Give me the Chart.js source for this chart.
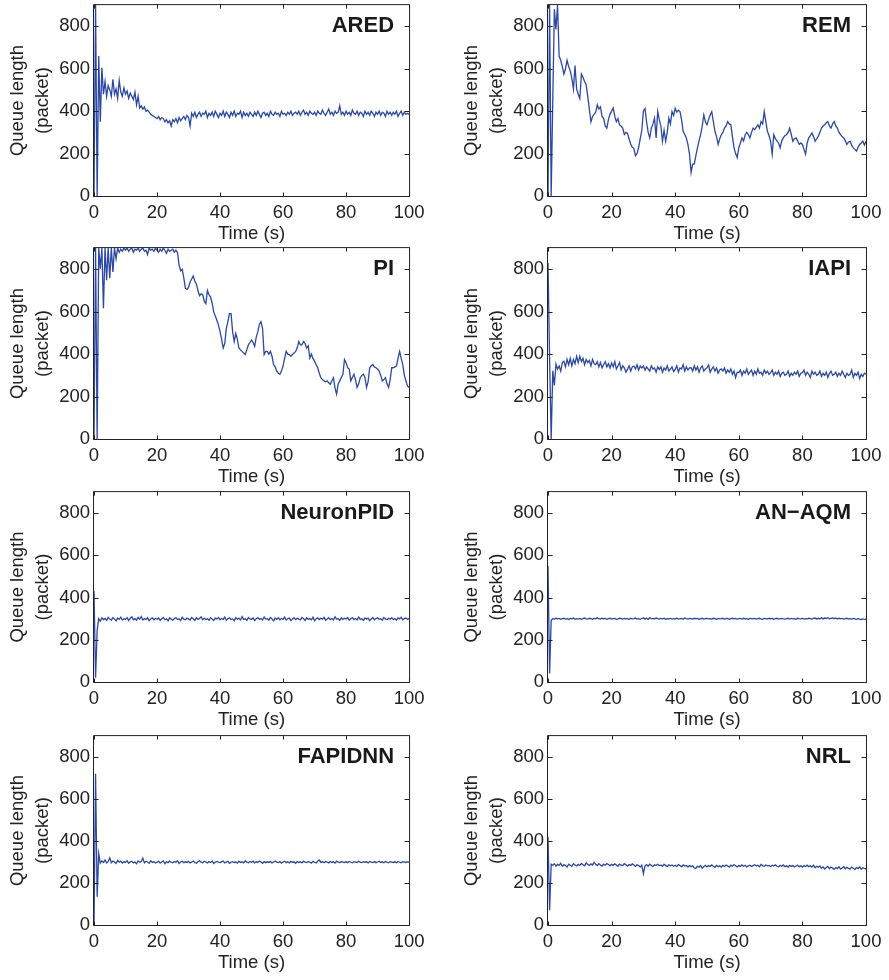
<!DOCTYPE html>
<html>
<head>
<meta charset="utf-8">
<script src="https://cdn.jsdelivr.net/npm/chart.js@4.4.1/dist/chart.umd.min.js"></script>
<style>
  html, body { margin: 0; padding: 0; background: #fff; overflow: hidden; width: 889px; height: 980px; position: relative; }
  canvas { position: absolute; }
</style>
</head>
<body>
<script>
// Sampling instants (s) shared by every queue trace: 0, 0.5, 1.0 ... 100
const time = Array.from({ length: 201 }, (_, i) => i * 0.5);
const xTicks = [0, 20, 40, 60, 80, 100];
const yTicks = [0, 200, 400, 600, 800];

// Instantaneous queue length (packets) for each AQM scheme
const qARED = [
  0, 900, 0, 660, 350, 605, 480, 540, 470, 520,
  500, 470, 550, 480, 505, 460, 545, 490, 470, 510,
  480, 495, 460, 485, 470, 455, 490, 430, 470, 415,
  425, 410, 420, 400, 405, 395, 385, 380, 375, 370,
  365, 375, 360, 370, 365, 350, 360, 345, 355, 330,
  360, 350, 365, 345, 370, 355, 365, 375, 360, 380,
  370, 330, 390, 375, 395, 370, 385, 395, 375, 390,
  385, 400, 370, 390, 380, 395, 375, 400, 385, 370,
  390, 380, 400, 375, 395, 385, 370, 395, 380, 400,
  375, 390, 385, 400, 370, 395, 380, 390, 375, 395,
  385, 375, 395, 380, 400, 385, 370, 390, 395, 380,
  390, 375, 400, 385, 380, 395, 385, 390, 375, 400,
  385, 390, 380, 395, 385, 400, 380, 390, 395, 385,
  400, 380, 395, 405, 385, 395, 380, 400, 390, 385,
  395, 380, 400, 390, 385, 405, 390, 380, 395, 410,
  385, 395, 380, 400, 390, 395, 425, 385, 395, 380,
  400, 385, 395, 380, 405, 390, 385, 400, 380, 395,
  390, 375, 400, 385, 395, 380, 400, 390, 375, 395,
  385, 400, 380, 395, 390, 375, 400, 385, 395, 380,
  395, 385, 400, 375, 390, 400, 380, 395, 385, 390,
  385
];
const qREM = [
  0, 900, 0, 450, 880, 785, 900, 660, 640, 610,
  575, 600, 640, 610, 590, 555, 505, 615, 505, 480,
  460, 575, 560, 540, 525, 470, 410, 350, 375, 385,
  395, 430, 410, 420, 375, 365, 330, 320, 360, 385,
  400, 415, 375, 350, 365, 335, 330, 320, 290, 300,
  295, 270, 245, 230, 225, 190, 200, 228, 270, 310,
  400, 413, 350, 300, 274, 320, 340, 367, 274, 398,
  360, 330, 258, 310, 258, 300, 367, 340, 398, 380,
  413, 395, 405, 398, 360, 305, 290, 274, 243, 197,
  111, 150, 150, 190, 227, 260, 289, 330, 382, 350,
  336, 360, 382, 398, 350, 305, 280, 243, 270, 289,
  300, 320, 330, 351, 340, 336, 280, 227, 200, 181,
  227, 250, 274, 260, 289, 300, 290, 274, 300, 320,
  313, 325, 336, 320, 351, 340, 398, 350, 305, 285,
  258, 197, 289, 270, 260, 250, 227, 260, 274, 285,
  289, 300, 320, 290, 258, 270, 274, 260, 243, 250,
  243, 220, 197, 250, 274, 285, 297, 280, 258, 270,
  282, 300, 320, 330, 336, 345, 351, 330, 320, 340,
  351, 330, 320, 300, 289, 280, 274, 260, 243, 255,
  258, 240, 227, 220, 212, 230, 243, 250, 258, 240,
  258
];
const qPI = [
  0, 900, 0, 900, 803, 900, 617, 900, 749, 900,
  758, 900, 787, 900, 850, 900, 880, 895, 885, 900,
  890, 900, 885, 895, 900, 880, 895, 890, 900, 885,
  895, 900, 885, 890, 870, 900, 890, 895, 885, 900,
  890, 880, 895, 885, 900, 890, 875, 895, 885, 890,
  895, 880, 890, 878, 820, 793, 800, 760, 710, 705,
  715, 740, 754, 769, 745, 730, 700, 676, 684, 680,
  650, 638, 700, 680, 669, 640, 599, 580, 560, 537,
  506, 470, 429, 450, 522, 553, 591, 591, 506, 460,
  498, 470, 429, 420, 413, 405, 398, 420, 444, 455,
  467, 455, 437, 480, 506, 540, 553, 522, 398, 413,
  413, 400, 413, 390, 351, 340, 320, 310, 305, 320,
  344, 380, 413, 400, 398, 390, 398, 405, 413, 430,
  460, 444, 444, 460, 450, 429, 440, 382, 400, 380,
  367, 350, 336, 310, 289, 280, 274, 270, 274, 265,
  258, 275, 289, 240, 212, 260, 274, 290, 305, 375,
  360, 336, 330, 274, 290, 305, 280, 243, 260, 289,
  300, 305, 290, 243, 270, 336, 345, 351, 340, 336,
  330, 320, 300, 274, 280, 289, 260, 243, 280, 336,
  336, 340, 344, 380, 413, 380, 351, 300, 274, 250,
  243
];
const qIAPI = [
  830, 380, 0, 322, 253, 353, 330, 344, 320, 360,
  367, 340, 375, 350, 380, 345, 375, 355, 390, 360,
  390, 365, 380, 350, 375, 360, 370, 345, 375, 355,
  351, 365, 340, 360, 335, 351, 365, 340, 355, 335,
  359, 340, 365, 330, 344, 360, 325, 345, 336, 315,
  328, 345, 320, 340, 344, 330, 350, 325, 344, 335,
  344, 325, 340, 330, 320, 345, 330, 335, 315, 340,
  328, 340, 315, 335, 325, 345, 320, 330, 340, 318,
  328, 345, 315, 335, 330, 350, 320, 340, 325, 335,
  336, 320, 345, 325, 340, 315, 335, 345, 320, 330,
  336, 350, 315, 330, 340, 320, 335, 310, 325, 330,
  320, 335, 310, 325, 315, 330, 305, 320, 290, 315,
  313, 325, 300, 320, 310, 330, 305, 315, 325, 300,
  320, 305, 330, 310, 315, 300, 325, 310, 320, 305,
  313, 325, 300, 315, 305, 320, 295, 310, 315, 300,
  305, 320, 295, 310, 300, 315, 305, 320, 295, 310,
  313, 325, 300, 315, 305, 290, 320, 305, 315, 300,
  305, 320, 295, 310, 300, 315, 290, 310, 320, 300,
  305, 315, 295, 310, 300, 320, 305, 290, 310, 300,
  305, 325, 290, 310, 300, 315, 285, 305, 295, 310,
  305
];
const qNeuronPID = [
  430, 20, 245, 300, 288, 304, 296, 301, 292, 306,
  298, 293, 305, 299, 290, 303, 297, 307, 294, 300,
  296, 305, 291, 302, 309, 295, 300, 293, 306, 298,
  310, 294, 301, 296, 305, 290, 299, 304, 295, 301,
  297, 303, 292, 300, 306, 295, 299, 290, 304, 298,
  293, 301, 305, 296, 300, 291, 307, 298, 295, 303,
  299, 294, 306, 300, 292, 304, 297, 301, 309, 295,
  302, 296, 300, 293, 305, 298, 291, 303, 299, 306,
  295, 301, 297, 308, 293, 300, 304, 296, 299, 290,
  305, 298, 302, 294, 310, 297, 300, 292, 306, 299,
  296, 304, 291, 300, 305, 297, 301, 294, 308, 298,
  300, 293, 306, 299, 290, 303, 297, 305, 295, 301,
  297, 308, 294, 300, 303, 291, 299, 305, 296, 302,
  298, 294, 306, 300, 292, 304, 297, 301, 295, 307,
  290, 300, 304, 296, 302, 298, 306, 293, 299, 305,
  296, 301, 294, 309, 298, 300, 292, 304, 297, 302,
  299, 306, 293, 300, 305, 296, 301, 294, 308, 297,
  300, 292, 304, 298, 303, 291, 299, 306, 295, 301,
  304, 297, 300, 293, 306, 299, 295, 302, 298, 305,
  296, 301, 293, 304, 299, 307, 295, 300, 303, 297,
  300
];
const qANAQM = [
  550, 40, 292, 300, 298, 302, 299, 301, 297, 300,
  302, 298, 300, 296, 301, 299, 303, 297, 300, 298,
  301, 297, 300, 303, 299, 298, 302, 300, 297, 301,
  299, 304, 300, 298, 302, 299, 301, 297, 300, 302,
  298, 300, 301, 297, 299, 302, 300, 298, 301, 299,
  300, 297, 302, 299, 300, 303, 298, 300, 297, 301,
  304, 298, 302, 297, 305, 299, 301, 298, 303, 300,
  298, 301, 299, 302, 297, 300, 299, 301, 298, 300,
  299, 302, 298, 300, 301, 297, 303, 300, 298, 301,
  300, 298, 302, 299, 301, 297, 300, 302, 298, 300,
  301, 299, 300, 298, 302, 300, 297, 301, 299, 300,
  302, 298, 300, 301, 297, 300, 302, 299, 301, 298,
  300, 301, 298, 302, 299, 300, 297, 301, 300, 299,
  301, 298, 300, 302, 299, 297, 301, 300, 298, 302,
  299, 301, 297, 300, 302, 298, 300, 301, 299, 298,
  300, 302, 298, 301, 299, 300, 297, 302, 300, 299,
  301, 298, 300, 299, 302, 300, 298, 301, 303, 299,
  302, 300, 304, 299, 303, 301, 305, 300, 302, 304,
  301, 303, 300, 302, 299, 301, 298, 300, 302, 299,
  300, 298, 301, 299, 297, 300, 298, 296, 299, 297,
  298
];
const qFAPIDNN = [
  0, 720, 135, 340, 295, 305, 298, 310, 296, 303,
  320, 297, 305, 300, 293, 308, 299, 304, 295, 301,
  298, 306, 294, 301, 303, 297, 300, 292, 305, 299,
  302, 318, 296, 304, 300, 294, 306, 298, 301, 295,
  299, 303, 296, 300, 305, 292, 301, 297, 304, 299,
  296, 302, 299, 306, 293, 300, 304, 297, 301, 298,
  303, 296, 300, 305, 298, 294, 301, 306, 299, 297,
  304, 300, 296, 302, 298, 305, 293, 300, 303, 299,
  297, 301, 305, 296, 300, 303, 294, 299, 302, 298,
  300, 295, 304, 298, 301, 296, 306, 299, 297, 303,
  299, 304, 296, 301, 298, 305, 300, 294, 302, 297,
  301, 298, 303, 296, 300, 305, 299, 297, 302, 295,
  300, 304, 297, 301, 296, 303, 299, 300, 294, 302,
  298, 301, 296, 304, 299, 297, 302, 300, 295, 303,
  299, 296, 304, 310, 298, 301, 297, 303, 300, 296,
  302, 298, 301, 295, 304, 299, 297, 302, 300, 298,
  301, 297, 303, 299, 296, 302, 300, 298, 304, 299,
  297, 302, 299, 301, 296, 303, 300, 298, 302, 297,
  300, 304, 298, 301, 297, 303, 299, 296, 302, 300,
  298, 301, 297, 303, 299, 296, 302, 300, 298, 301,
  299
];
const qNRL = [
  420, 70, 290, 285, 292, 280, 289, 284, 294, 279,
  288, 283, 276, 290, 285, 280, 292, 286, 281, 289,
  284, 293, 287, 282, 296, 288, 284, 291, 286, 298,
  289, 283, 292, 286, 281, 290, 285, 293, 288, 282,
  289, 284, 291, 286, 280, 290, 285, 283, 292, 287,
  281, 288, 284, 291, 286, 279, 287, 283, 276, 285,
  245, 282, 288, 280, 290, 284, 279, 287, 283, 289,
  282, 286, 280, 289, 284, 278, 287, 282, 286, 280,
  285, 279, 288, 283, 277, 286, 281, 284, 276, 283,
  278, 282, 272, 270, 280, 275, 283, 271, 279, 284,
  277, 283, 279, 286, 280, 275, 284, 278, 282, 276,
  284, 279, 286, 281, 276, 285, 280, 288, 282, 277,
  283, 279, 286, 280, 284, 277, 282, 285, 279, 283,
  287, 281, 285, 278, 289, 283, 280, 286, 282, 284,
  279, 285, 281, 287, 280, 277, 284, 280, 286, 278,
  282, 276, 284, 279, 283, 277, 281, 285, 278, 282,
  276, 283, 279, 285, 278, 282, 276, 284, 273, 280,
  275, 281, 270, 277, 267, 274, 279, 268, 276, 271,
  265, 274, 269, 277, 266, 272, 278, 268, 275, 270,
  267, 276, 270, 265, 274, 269, 277, 266, 273, 270,
  268
];

const panels = [
  { name: 'ARED',      values: qARED,      col: 0, row: 0 },
  { name: 'REM',       values: qREM,       col: 1, row: 0 },
  { name: 'PI',        values: qPI,        col: 0, row: 1 },
  { name: 'IAPI',      values: qIAPI,      col: 1, row: 1 },
  { name: 'NeuronPID', values: qNeuronPID, col: 0, row: 2 },
  { name: 'AN\u2212AQM', values: qANAQM,   col: 1, row: 2 },
  { name: 'FAPIDNN',   values: qFAPIDNN,   col: 0, row: 3 },
  { name: 'NRL',       values: qNRL,       col: 1, row: 3 }
];

const LINE = '#2a48a6';
const INK = '#222222';
const FONT = '"Liberation Sans", Arial, Helvetica, sans-serif';
Chart.defaults.font.family = FONT;

// Page geometry of the plotting boxes
const rowTop = [2, 245, 489, 733];
const rowBottom = [196, 439, 682, 925];
const colCanvasLeft = [0, 455];
const colCanvasWidth = [430, 434];
const colPlotLeft = [94, 548];
const plotWidth = 318;
const padTop = 12;
const xAxisHeight = 49;

// Closed axes box with inward tick marks on all four sides, plus the scheme name
const framePlugin = {
  id: 'frame',
  afterDatasetsDraw(chart, args, opts) {
    const { ctx, chartArea: a, scales } = chart;
    const xs = scales.x, ys = scales.y;
    const L = a.left - 0.5, R = a.right + 0.5, T = a.top - 0.5, B = a.bottom + 0.5;
    ctx.save();
    ctx.strokeStyle = INK;
    ctx.lineWidth = 1;
    ctx.beginPath();
    ctx.rect(L, T, R - L, B - T);
    xTicks.forEach(v => {
      const px = Math.round(xs.getPixelForValue(v)) + 0.5;
      ctx.moveTo(px, B); ctx.lineTo(px, B - 4);
      ctx.moveTo(px, T); ctx.lineTo(px, T + 4);
    });
    yTicks.forEach(v => {
      const py = Math.round(ys.getPixelForValue(v)) + 0.5;
      ctx.moveTo(L, py); ctx.lineTo(L + 5, py);
      ctx.moveTo(R, py); ctx.lineTo(R - 5, py);
    });
    ctx.stroke();
    ctx.fillStyle = '#1a1a1a';
    ctx.font = 'bold 22px ' + FONT;
    ctx.textAlign = 'right';
    ctx.textBaseline = 'alphabetic';
    ctx.fillText(opts.label, a.right - 15, a.top + 26.5);
    ctx.restore();
  }
};

function makePanel(p) {
  const canvasLeft = colCanvasLeft[p.col];
  const cw = colCanvasWidth[p.col];
  const yAxisWidth = colPlotLeft[p.col] - canvasLeft;
  const padRight = cw - yAxisWidth - plotWidth;
  const plotH = rowBottom[p.row] - rowTop[p.row];
  const ch = padTop + plotH + xAxisHeight;

  const cv = document.createElement('canvas');
  cv.width = cw; cv.height = ch;
  cv.style.left = canvasLeft + 'px';
  cv.style.top = (rowTop[p.row] - padTop) + 'px';
  cv.style.width = cw + 'px';
  cv.style.height = ch + 'px';
  document.body.appendChild(cv);

  new Chart(cv, {
    type: 'line',
    data: {
      datasets: [{
        data: time.map((t, i) => ({ x: t, y: p.values[i] })),
        borderColor: LINE,
        borderWidth: 1.3,
        pointRadius: 0,
        tension: 0,
        fill: false
      }]
    },
    options: {
      responsive: false,
      animation: false,
      devicePixelRatio: 1,
      layout: { padding: { top: padTop, right: padRight, bottom: 0, left: 0 } },
      plugins: {
        legend: { display: false },
        tooltip: { enabled: false },
        frame: { label: p.name }
      },
      scales: {
        x: {
          type: 'linear', min: 0, max: 100,
          grid: { display: false, drawTicks: false },
          border: { display: false },
          afterBuildTicks: s => { s.ticks = xTicks.map(v => ({ value: v })); },
          afterFit: s => { s.height = xAxisHeight; },
          ticks: { autoSkip: false, maxRotation: 0, padding: 5.5, color: INK, font: { size: 18.5 } },
          title: {
            display: true, text: 'Time (s)', color: INK,
            font: { size: 18.5, lineHeight: 1.2 },
            padding: { top: 0, bottom: 0 }
          }
        },
        y: {
          type: 'linear', min: 0, max: 900,
          grid: { display: false, drawTicks: false },
          border: { display: false },
          afterBuildTicks: s => { s.ticks = yTicks.map(v => ({ value: v })); },
          afterFit: s => { s.width = yAxisWidth; },
          ticks: { padding: 4, color: INK, font: { size: 18.5 } },
          title: {
            display: true, text: ['Queue length', '(packet)'], color: INK,
            font: { size: 18.5, lineHeight: 25 / 18.5 },
            padding: { top: p.col === 0 ? 5.8 : 4, bottom: 0 }
          }
        }
      }
    },
    plugins: [framePlugin]
  });
}

panels.forEach(makePanel);
</script>
</body>
</html>
